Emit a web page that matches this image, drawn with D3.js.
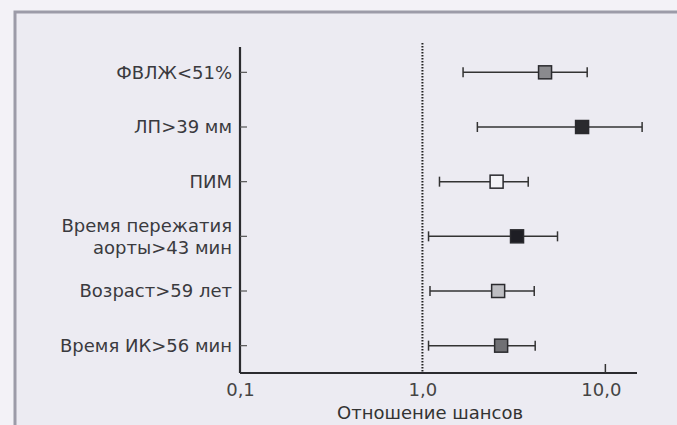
<!DOCTYPE html>
<html>
<head>
<meta charset="utf-8">
<script src="https://cdn.jsdelivr.net/npm/d3@7"></script>
<style>
  body { margin: 0; background: #f3f2f7; }
  svg { display: block; font-family: "DejaVu Sans", "Liberation Sans", Arial, sans-serif; }
</style>
</head>
<body>
<div id="chart"></div>
<script>
// factors (multi-line labels split with \n)
const factors = ["ФВЛЖ<51%", "ЛП>39 мм", "ПИМ", "Время пережатия\nаорты>43 мин", "Возраст>59 лет", "Время ИК>56 мин"];
const oddsRatio = [4.7, 7.5, 2.55, 3.3, 2.6, 2.7];
const ciLow = [1.67, 2.0, 1.24, 1.08, 1.1, 1.08];
const ciHigh = [8.0, 16.0, 3.8, 5.5, 4.1, 4.15];
const markerFill = ["#8a8a8e", "#2a2a2e", "#f4f4f8", "#1e1e24", "#bdbdc2", "#707074"];
const xTicks = [0.1, 1, 10];
const xTickLabels = ["0,1", "1,0", "10,0"];
const xTitle = "Отношение шансов";

const width = 677, height = 425;

const svg = d3.select("#chart")
  .append("svg")
  .attr("width", width)
  .attr("height", height);

// panel with border on top and left
svg.append("rect")
  .attr("x", 15).attr("y", 12)
  .attr("width", width).attr("height", height)
  .attr("fill", "#ecebf2");
svg.append("path")
  .attr("d", `M15,${height} V12 H${width}`)
  .attr("fill", "none")
  .attr("stroke", "#9c9ba8")
  .attr("stroke-width", 3);

const x = d3.scaleLog().domain([0.1, 15]).range([240, 637]);
const y = d3.scaleBand().domain(factors).range([45, 373]);

// reference line at OR = 1
svg.append("line")
  .attr("x1", x(1)).attr("x2", x(1))
  .attr("y1", 43).attr("y2", 373)
  .attr("stroke", "#222")
  .attr("stroke-width", 2)
  .attr("stroke-dasharray", "1.5,1.5");

// y axis
const yAxis = svg.append("g")
  .attr("transform", "translate(240,0)")
  .call(d3.axisLeft(y).tickSize(-7).tickFormat(""));
yAxis.select(".domain").attr("stroke", "#2b2b2f").attr("stroke-width", 2.2)
  .attr("d", "M0,47V373");
yAxis.selectAll(".tick line").attr("stroke", "#555").attr("stroke-width", 1.2);

// x axis
const xAxis = svg.append("g")
  .attr("transform", "translate(0,373)")
  .call(d3.axisBottom(x).tickValues(xTicks).tickSize(-9)
    .tickFormat((d, i) => xTickLabels[i]));
xAxis.select(".domain").attr("stroke", "#2b2b2f").attr("stroke-width", 2.2)
  .attr("d", `M240,0H637`);
xAxis.selectAll(".tick line").attr("stroke", "#333").attr("stroke-width", 1.5)
  .filter(d => d !== 10).remove();
xAxis.selectAll(".tick text")
  .attr("y", 10)
  .attr("fill", "#444")
  .attr("font-size", 18)
  .attr("font-family", "DejaVu Sans, sans-serif");
xAxis.selectAll(".tick text").filter(d => d === 10).attr("dx", -4);

svg.append("text")
  .attr("x", 430).attr("y", 419)
  .attr("text-anchor", "middle")
  .attr("fill", "#333")
  .attr("font-size", 18)
  .text(xTitle);

// row labels
const labels = svg.append("g")
  .attr("font-size", 18)
  .attr("fill", "#3a3a3e")
  .attr("text-anchor", "end")
  .selectAll("text")
  .data(factors)
  .join("text")
  .attr("x", 232)
  .attr("y", d => y(d) + y.bandwidth() / 2);
labels.selectAll("tspan")
  .data(d => d.split("\n").map((t, i, a) => ({ t, i, n: a.length })))
  .join("tspan")
  .attr("x", 232)
  .attr("dy", d => d.i === 0 ? `${0.35 - (d.n - 1) * 0.6}em` : "1.22em")
  .text(d => d.t);

// error bars
const rows = svg.append("g")
  .selectAll("g")
  .data(factors)
  .join("g")
  .attr("transform", d => `translate(0,${y(d) + y.bandwidth() / 2})`);

rows.append("line")
  .attr("x1", (d, i) => x(ciLow[i]))
  .attr("x2", (d, i) => x(ciHigh[i]))
  .attr("stroke", "#333")
  .attr("stroke-width", 1.5);

rows.selectAll(".cap")
  .data((d, i) => [ciLow[i], ciHigh[i]])
  .join("line")
  .attr("class", "cap")
  .attr("x1", d => x(d)).attr("x2", d => x(d))
  .attr("y1", -5).attr("y2", 5)
  .attr("stroke", "#333")
  .attr("stroke-width", 1.5);

const s = 13;
rows.append("rect")
  .attr("x", (d, i) => x(oddsRatio[i]) - s / 2)
  .attr("y", -s / 2)
  .attr("width", s).attr("height", s)
  .attr("fill", (d, i) => markerFill[i])
  .attr("stroke", "#2a2a2e")
  .attr("stroke-width", 1.5);
</script>
</body>
</html>
